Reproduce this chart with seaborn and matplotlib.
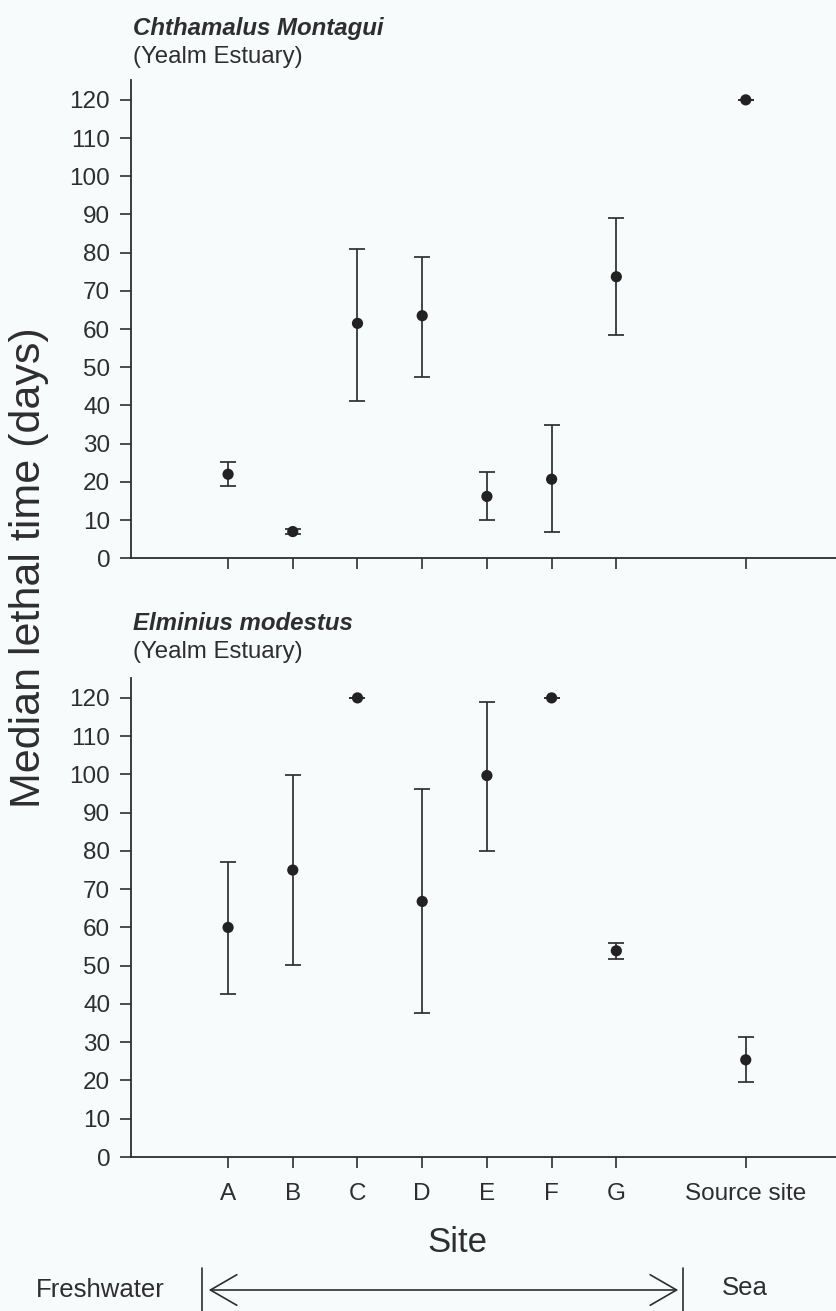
import numpy as np
import pandas as pd
import matplotlib
matplotlib.use("Agg")
import matplotlib.pyplot as plt
import seaborn as sns
from matplotlib.patches import FancyArrowPatch
from matplotlib.lines import Line2D

# Sites along the estuary, upstream to the sea
sites = ["A", "B", "C", "D", "E", "F", "G", "Source site"]

# Chthamalus montagui: median lethal time (days) with interval limits
chth_median = [22, 7, 61.5, 63.5, 16.2, 20.7, 73.7, 120]
chth_low = [19, 6.3, 41.2, 47.5, 10, 6.8, 58.5, 120]
chth_high = [25.2, 7.7, 81, 78.8, 22.6, 34.9, 89.2, 120]

# Elminius modestus: median lethal time (days) with interval limits
elmi_median = [60, 75, 120, 66.8, 99.7, 120, 53.9, 25.4]
elmi_low = [42.6, 50.3, 120, 37.6, 79.9, 120, 51.8, 19.5]
elmi_high = [77, 99.9, 120, 96.2, 119, 120, 56, 31.4]

y_ticks = list(range(0, 121, 10))

INK = "#2e2e2e"
BG = "#f8fbfc"

sns.set_theme(style="ticks")
plt.rcParams["font.family"] = ["Liberation Sans", "DejaVu Sans"]
plt.rcParams["text.color"] = INK

# Sites A-G are evenly spaced; the source site sits one slot further out
site_x = np.array([i if s != "Source site" else i + 1 for i, s in enumerate(sites)], dtype=float)

frames = []
for species, med, lo, hi in [("Chthamalus Montagui", chth_median, chth_low, chth_high),
                             ("Elminius modestus", elmi_median, elmi_low, elmi_high)]:
    frames.append(pd.DataFrame({"species": species, "site": sites, "x": site_x,
                                "median": med, "low": lo, "high": hi}))
df = pd.concat(frames, ignore_index=True)

W, H = 837, 1311
fig = plt.figure(figsize=(W / 100, H / 100), dpi=100, facecolor=BG)

left = 131 / W
ax_top = fig.add_axes([left, 1 - 558.3 / H, 1 - left, (558.3 - 80) / H])
ax_bot = fig.add_axes([left, 1 - 1157 / H, 1 - left, (1157 - 678) / H])

panels = [(ax_top, "Chthamalus Montagui"), (ax_bot, "Elminius modestus")]
for ax, species in panels:
    sub = df[df["species"] == species]
    ax.set_facecolor(BG)
    ax.errorbar(sub["x"], sub["median"],
                yerr=[sub["median"] - sub["low"], sub["high"] - sub["median"]],
                fmt="none", ecolor=INK, elinewidth=1.25, capsize=5.5, capthick=1.25,
                zorder=2)
    sns.scatterplot(data=sub, x="x", y="median", ax=ax, color="#222222",
                    s=65, edgecolor="none", zorder=3, legend=False)
    ax.set_xlim(-1.5, 9.41)
    ax.set_ylim(0, 125.2)
    ax.set_yticks(y_ticks)
    ax.set_xticks(site_x)
    ax.set_xlabel("")
    ax.set_ylabel("")
    for side in ("top", "right"):
        ax.spines[side].set_visible(False)
    for side in ("left", "bottom"):
        ax.spines[side].set_color(INK)
        ax.spines[side].set_linewidth(1.3)
    ax.tick_params(axis="both", direction="out", length=8, width=1.2,
                   color=INK, labelcolor=INK, labelsize=17.5)
    ax.tick_params(axis="y", pad=7)
    ax.tick_params(axis="x", pad=11)

ax_top.set_xticklabels([])
ax_bot.set_xticklabels(sites)

# Panel headings
for species, y_title, y_sub in [("Chthamalus Montagui", 28, 57),
                                ("Elminius modestus", 623, 652)]:
    fig.text(133 / W, 1 - y_title / H, species, fontsize=17.3, fontweight="bold",
             fontstyle="italic", ha="left", va="center", color=INK)
    fig.text(133 / W, 1 - y_sub / H, "(Yealm Estuary)", fontsize=17.3,
             ha="left", va="center", color=INK)

fig.text(29 / W, 1 - 568 / H, "Median lethal time (days)", rotation=90,
         fontsize=31, ha="center", va="center", color=INK)
fig.text(457 / W, 1 - 1243 / H, "Site", fontsize=25, ha="center", va="center", color=INK)

# Freshwater-to-sea gradient arrow
fig.text(36 / W, 1 - 1290 / H, "Freshwater", fontsize=18.5, ha="left", va="center", color=INK)
fig.text(745 / W, 1 - 1288 / H, "Sea", fontsize=18.5, ha="center", va="center", color=INK)
arrow = FancyArrowPatch((206 / W, 1 - 1290 / H), (681 / W, 1 - 1290 / H),
                        transform=fig.transFigure,
                        arrowstyle="<->,head_length=0.95,head_width=0.55",
                        mutation_scale=20, color=INK, lw=1.2)
fig.add_artist(arrow)
for xb in (202, 683):
    fig.add_artist(Line2D([xb / W, xb / W], [1 - 1268 / H, 0], transform=fig.transFigure,
                          color=INK, lw=1.2))

fig.savefig("out.png", dpi=100, facecolor=BG)
